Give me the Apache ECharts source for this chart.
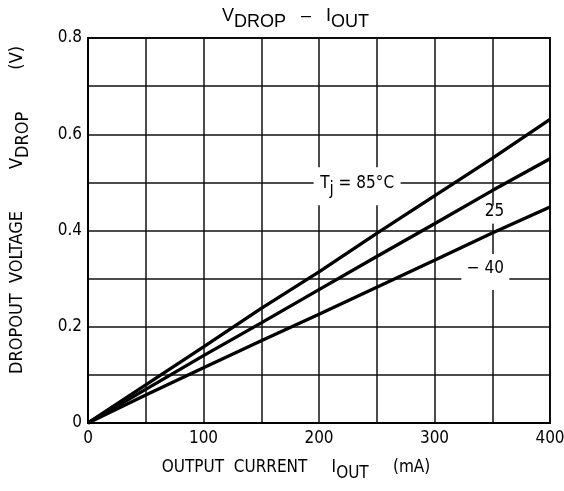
<!DOCTYPE html>
<html>
<head>
<meta charset="utf-8">
<script src="https://cdn.jsdelivr.net/npm/echarts@6/dist/echarts.min.js"></script>
<style>
  html, body { margin: 0; padding: 0; background: #fff; }
  #vdropChart { width: 564px; height: 491px; }
</style>
</head>
<body>
<div id="vdropChart"></div>
<script>
// values
const current = [0, 50, 100, 150, 200, 250, 300, 350, 400] // mA
const vdrop85 = [0, 0.079, 0.158, 0.238, 0.314, 0.394, 0.472, 0.55, 0.631]
const vdrop25 = [0, 0.07, 0.14, 0.208, 0.277, 0.346, 0.414, 0.483, 0.549]
const vdropM40 = [0, 0.058, 0.115, 0.171, 0.226, 0.282, 0.338, 0.395, 0.449]
const xTickLabels = [0, 100, 200, 300, 400]
const yTickLabels = [0, 0.2, 0.4, 0.6, 0.8]

const FONT = "'Liberation Sans Narrow', 'DejaVu Sans Condensed', sans-serif"
const TITLE_FONT = "'Liberation Sans', sans-serif"

// rich styles: normal text + lowered subscript
const sub = (size, drop, family) => ({
  main: { fontSize: size, fontFamily: family || FONT, color: '#000', verticalAlign: 'top', lineHeight: size + 6 },
  sub: { fontSize: size, fontFamily: family || FONT, color: '#000', verticalAlign: 'top', lineHeight: size + 6, padding: [drop, 0, 0, 0] },
  gap: { fontSize: size, fontFamily: family || FONT, color: '#000', verticalAlign: 'top', lineHeight: size + 6, padding: [0, 0, 0, 42] }
})

const curve = (name, values, text, at, box) => ({
  name: name,
  type: 'line',
  data: current.map((c, i) => [c, values[i]]),
  symbol: 'none',
  silent: true,
  lineStyle: { color: '#000', width: 3.3 },
  markPoint: {
    symbol: 'rect',
    symbolSize: box,
    silent: true,
    itemStyle: { color: '#fff' },
    label: {
      show: true,
      position: 'inside',
      formatter: () => text,
      rich: sub(17, 6),
      color: '#000'
    },
    data: [{ coord: at }]
  }
})

const chart = echarts.init(document.getElementById('vdropChart'))
const option = {
  animation: false,
  title: {
    text: '{main|V}{sub|DROP}{main|   \u2013   I}{sub|OUT}',
    left: 217,
    top: 2,
    textStyle: { fontWeight: 'normal', rich: sub(18, 6, TITLE_FONT) }
  },
  grid: {
    left: 88, right: 14, top: 38, bottom: 68,
    outerBoundsMode: 'none',
    containLabel: false,
    show: true, borderColor: '#000', borderWidth: 2
  },
  xAxis: {
    type: 'value',
    min: 0, max: 400, interval: 50,
    axisLine: { show: true, lineStyle: { color: '#000', width: 2 } },
    axisTick: { show: false },
    splitLine: { show: true, lineStyle: { color: '#111', width: 1.5 } },
    axisLabel: {
      margin: 7,
      fontSize: 17, fontFamily: FONT, color: '#000',
      formatter: v => xTickLabels.includes(v) ? String(v) : ''
    }
  },
  yAxis: {
    type: 'value',
    min: 0, max: 0.8, interval: 0.1,
    axisLine: { show: true, lineStyle: { color: '#000', width: 2 } },
    axisTick: { show: false },
    splitLine: { show: true, lineStyle: { color: '#111', width: 1.5 } },
    axisLabel: {
      margin: 6,
      fontSize: 17, fontFamily: FONT, color: '#000',
      formatter: v => {
        const hit = yTickLabels.find(t => Math.abs(t - v) < 1e-6)
        if (hit === undefined) return ''
        return hit === 0 ? '0' : hit.toFixed(1)
      }
    }
  },
  graphic: [
    {
      type: 'text',
      x: 296, y: 471,
      silent: true,
      style: {
        text: '{main|OUTPUT  CURRENT     I}{sub|OUT}{main|     (mA)}',
        align: 'center', verticalAlign: 'middle',
        rich: sub(17, 6)
      }
    },
    {
      type: 'text',
      x: 20, y: 210,
      rotation: Math.PI / 2,
      silent: true,
      style: {
        text: '{main|DROPOUT  VOLTAGE}{gap|V}{sub|DROP}{gap|(V)}',
        align: 'center', verticalAlign: 'middle',
        rich: sub(18, 6)
      }
    }
  ],
  series: [
    curve('85', vdrop85, '{main|T}{sub|j}{main| = 85\u00b0C}', [233, 0.492], [87, 38]),
    curve('25', vdrop25, '{main|25}', [352, 0.433], [26, 18]),
    curve('-40', vdropM40, '{main|\u2212 40}', [344, 0.314], [48, 36])
  ]
}
chart.setOption(option)
</script>
</body>
</html>
